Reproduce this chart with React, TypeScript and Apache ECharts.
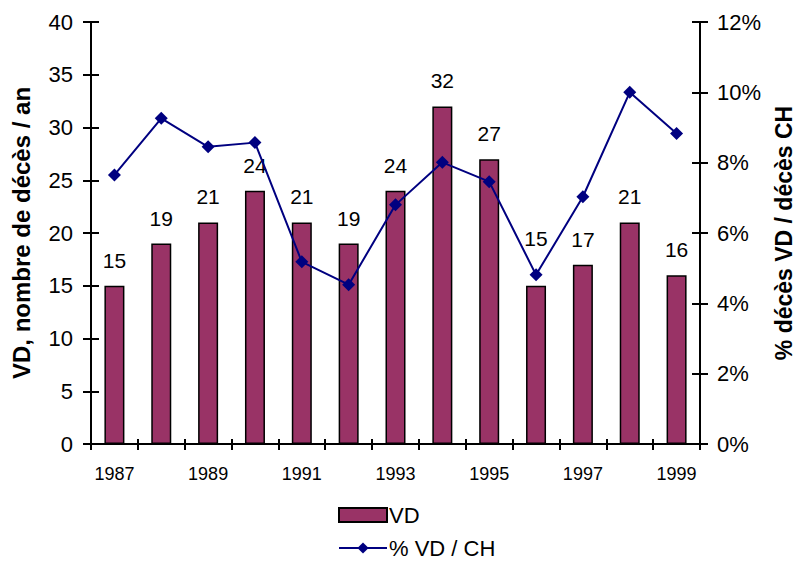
import React, { useEffect, useRef } from "react";
import * as echarts from "echarts";

const years = ["1987", "1988", "1989", "1990", "1991", "1992", "1993", "1994", "1995", "1996", "1997", "1998", "1999"];
const vdDeaths = [15, 19, 21, 24, 21, 19, 24, 32, 27, 15, 17, 21, 16];
const vdPercent = [7.65, 9.26, 8.45, 8.57, 5.18, 4.53, 6.8, 8.01, 7.46, 4.81, 7.03, 10.0, 8.83];
// label lifted above the line marker for this year (as in the original)
const liftedLabelYear = "1996";
const leftTitle = "VD, nombre de décès / an";
const rightTitle = "% décès VD / décès CH";

const FONT = "'Liberation Sans', Arial, sans-serif";

export default function App() {
  const ref = useRef<HTMLDivElement>(null);
  useEffect(() => {
    if (!ref.current) return;
    const chart = echarts.init(ref.current, undefined, { renderer: "svg" });
    const axisLine = { show: true, lineStyle: { color: "#000", width: 2 } };
    const barData = vdDeaths.map((v, i) =>
      years[i] === liftedLabelYear ? { value: v, label: { offset: [0, -22] } } : v
    );
    const legendText = { fontSize: 22, color: "#000", fontFamily: FONT, padding: [0, 0, 0, -3] };
    chart.setOption({
      animation: false,
      textStyle: { fontFamily: FONT, color: "#000" },
      grid: { left: 91, right: 97, top: 22, bottom: 117, containLabel: false, outerBoundsMode: "none" },
      legend: [
        {
          left: 333,
          top: 499,
          itemWidth: 48,
          itemHeight: 14,
          textStyle: legendText,
          data: [{ name: "VD", icon: "rect" }],
        },
        {
          left: 333,
          top: 532,
          itemWidth: 48,
          itemHeight: 14,
          textStyle: legendText,
          data: [{ name: "% VD / CH" }],
        },
      ],
      xAxis: [
        {
          type: "category",
          data: years,
          boundaryGap: true,
          axisLine,
          axisTick: { show: true, inside: false, length: 6, interval: 0, lineStyle: { color: "#000", width: 2 } },
          axisLabel: { interval: 1, fontSize: 18, color: "#000", margin: 21, fontFamily: FONT },
          splitLine: { show: false },
        },
        {
          type: "category",
          data: years,
          position: "bottom",
          boundaryGap: true,
          axisLine: { show: false },
          axisTick: { show: true, inside: true, length: 5, interval: 0, lineStyle: { color: "#000", width: 2 } },
          axisLabel: { show: false },
          splitLine: { show: false },
        },
      ],
      yAxis: [
        {
          type: "value",
          min: 0,
          max: 40,
          interval: 5,
          position: "left",
          name: leftTitle,
          nameLocation: "middle",
          nameRotate: 90,
          nameGap: 58,
          nameTextStyle: { fontSize: 24, fontWeight: "bold", color: "#000", fontFamily: FONT },
          axisLine,
          axisTick: { show: true, length: 8, lineStyle: { color: "#000", width: 2 } },
          axisLabel: { fontSize: 22, color: "#000", margin: 18, fontFamily: FONT },
          splitLine: { show: false },
        },
        {
          type: "value",
          min: 0,
          max: 40,
          interval: 5,
          position: "left",
          axisLine: { show: false },
          axisTick: { show: true, inside: true, length: 8, lineStyle: { color: "#000", width: 2 } },
          axisLabel: { show: false },
          splitLine: { show: false },
        },
        {
          type: "value",
          min: 0,
          max: 12,
          interval: 2,
          position: "right",
          name: rightTitle,
          nameLocation: "middle",
          nameRotate: 90,
          nameGap: 72,
          nameTextStyle: { fontSize: 23, fontWeight: "bold", color: "#000", fontFamily: FONT },
          axisLine,
          axisTick: { show: true, length: 8, lineStyle: { color: "#000", width: 2 } },
          axisLabel: { fontSize: 22, color: "#000", margin: 17, formatter: "{value}%", fontFamily: FONT },
          splitLine: { show: false },
        },
        {
          type: "value",
          min: 0,
          max: 12,
          interval: 2,
          position: "right",
          axisLine: { show: false },
          axisTick: { show: true, inside: true, length: 8, lineStyle: { color: "#000", width: 2 } },
          axisLabel: { show: false },
          splitLine: { show: false },
        },
      ],
      series: [
        {
          name: "VD",
          type: "bar",
          xAxisIndex: 0,
          yAxisIndex: 0,
          data: barData,
          barWidth: 20,
          itemStyle: { color: "#993366", borderColor: "#000", borderWidth: 1.5 },
          label: { show: true, position: "top", distance: 15, fontSize: 21, color: "#000", fontFamily: FONT },
        },
        {
          name: "% VD / CH",
          type: "line",
          xAxisIndex: 0,
          yAxisIndex: 2,
          data: vdPercent,
          symbol: "diamond",
          symbolSize: 13,
          lineStyle: { color: "#000080", width: 2 },
          itemStyle: { color: "#000080" },
        },
      ],
    });
    return () => chart.dispose();
  }, []);
  return <div ref={ref} style={{ width: 797, height: 561, position: "absolute", left: 0, top: 0 }} />;
}
